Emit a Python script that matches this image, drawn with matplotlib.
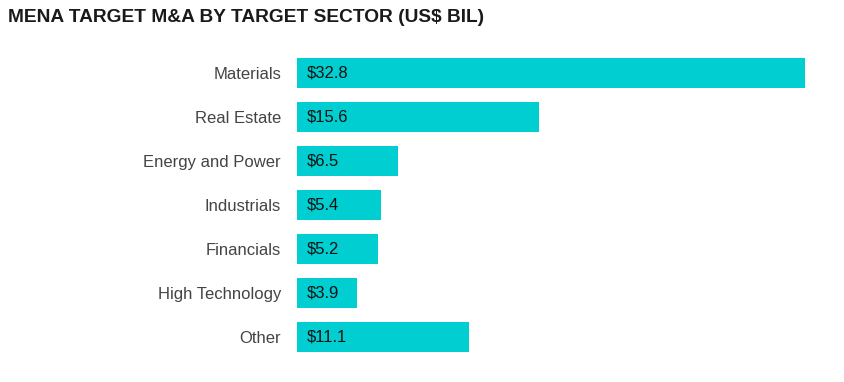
import matplotlib.pyplot as plt

sectors = ["Materials", "Real Estate", "Energy and Power", "Industrials",
           "Financials", "High Technology", "Other"]
values = [32.8, 15.6, 6.5, 5.4, 5.2, 3.9, 11.1]

plt.rcParams['font.family'] = ['Liberation Sans', 'DejaVu Sans']

fig = plt.figure(figsize=(8.44, 3.82), dpi=100)
ax = fig.add_axes([297 / 844, 1 - 359 / 382, (805 - 297) / 844, (359 - 51) / 382])

ypos = range(len(sectors))
ax.barh(ypos, values, height=0.68, color="#00CED1")
for y, v in zip(ypos, values):
    ax.annotate(f"${v}", (0, y), xytext=(7, 0), textcoords="offset points",
                ha="left", va="center", fontsize=12, color="#111111")

ax.set_yticks(list(ypos))
ax.set_yticklabels(sectors, fontsize=12, color="#444444")
ax.tick_params(axis="y", length=0, pad=11.5)
ax.set_xticks([])
ax.set_xlim(0, 32.8)
ax.set_ylim(len(sectors) - 0.5, -0.5)
for s in ax.spines.values():
    s.set_visible(False)

fig.text(8 / 844, 1 - 17 / 382, "MENA TARGET M&A BY TARGET SECTOR (US$ BIL)",
         fontsize=13.8, fontweight="bold", color="#1a1a1a", ha="left", va="center")

fig.savefig("out.png", dpi=100)
